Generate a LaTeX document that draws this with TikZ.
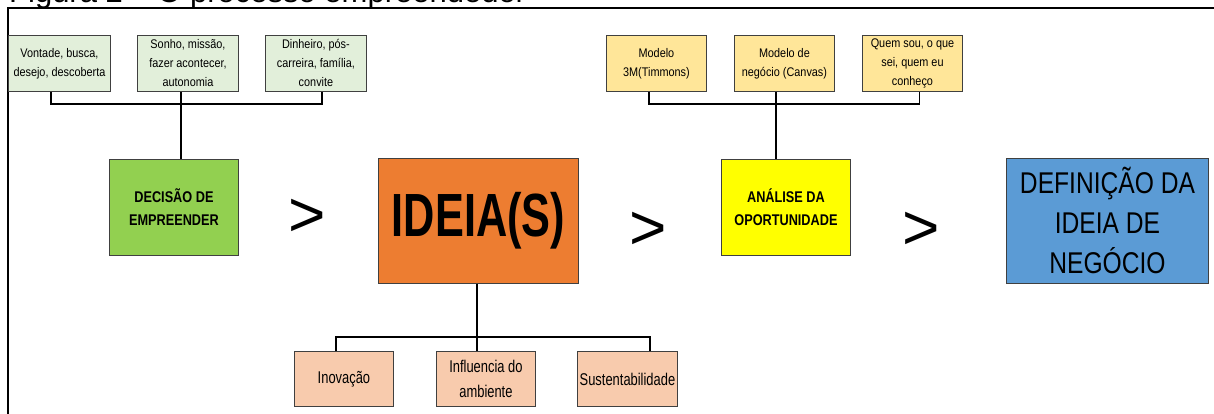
\documentclass[tikz,border=0pt]{standalone}
\usepackage{fontspec}
\setmainfont{Liberation Sans}
\newfontfamily\nA[FakeStretch=0.87]{Liberation Sans}
\newfontfamily\nB[FakeStretch=0.76]{Liberation Sans}
\newfontfamily\nC[FakeStretch=0.82]{Liberation Sans}
\newfontfamily\nD[FakeStretch=0.71]{Liberation Sans}
\usetikzlibrary{calc}
\definecolor{lgreen}{HTML}{E2EFDA}
\definecolor{lyellow}{HTML}{FFE699}
\definecolor{peach}{HTML}{F8CBAD}
\definecolor{cgreen}{HTML}{92D050}
\definecolor{corange}{HTML}{ED7D31}
\definecolor{cyellow}{HTML}{FFFF00}
\definecolor{cblue}{HTML}{5B9BD5}
\tikzset{
  box/.style={draw=black!75, line width=0.9pt, inner sep=0pt, align=center, anchor=north west},
  smallbox/.style={box, font={\nA\fontsize{12.5}{19}\selectfont}},
  peachbox/.style={box, fill=peach, minimum width=99pt, minimum height=55pt, font={\nB\fontsize{17}{25}\selectfont}},
  mainsmall/.style={box, minimum width=129pt, minimum height=96pt, font={\nC\bfseries\fontsize{15.5}{23}\selectfont}},
  conn/.style={line width=1.8pt, black},
  gtsign/.style={inner sep=0pt, font={\fontsize{64}{64}\selectfont}},
}
\begin{document}
\begin{tikzpicture}[x=1pt,y=-1pt]
\useasboundingbox (0,0) rectangle (1214,414);
\clip (0,0) rectangle (1214,414);
% caption (cut off at top)
\node[anchor=base west, inner sep=0pt, font={\fontsize{31}{31}\selectfont}] (cap) at (9,2.5) {Figura 2 – O processo empreendedor};
% frame
\draw[line width=1.5pt] (8,414) -- (8,8) -- (1214,8);
% top-left boxes
\node[smallbox, fill=lgreen, minimum width=102pt, minimum height=56pt] (g1) at (8,35) {Vontade, busca,\\desejo, descoberta};
\node[smallbox, fill=lgreen, minimum width=101pt, minimum height=56pt] (g2) at (137,35) {Sonho, missão,\\fazer acontecer,\\autonomia};
\node[smallbox, fill=lgreen, minimum width=101pt, minimum height=56pt] (g3) at (265,35) {Dinheiro, pós-\\carreira, família,\\convite};
% top-right boxes
\node[smallbox, fill=lyellow, minimum width=100pt, minimum height=56pt] (y1) at (606,35) {Modelo\\3M(Timmons)};
\node[smallbox, fill=lyellow, minimum width=100pt, minimum height=56pt] (y2) at (734,35) {Modelo de\\negócio (Canvas)};
\node[smallbox, fill=lyellow, minimum width=100pt, minimum height=56pt] (y3) at (862,35) {Quem sou, o que\\sei, quem eu\\conheço};
% main row
\node[mainsmall, fill=cgreen] (dec) at (109,159) {DECISÃO DE\\EMPREENDER};
\node[box, fill=corange, minimum width=200pt, minimum height=125pt, font={\nD\bfseries\fontsize{61}{61}\selectfont}] (ide) at (378,158) {IDEIA(S)};
\node[mainsmall, fill=cyellow] (ana) at (721,159) {ANÁLISE DA\\OPORTUNIDADE};
\node[box, fill=cblue, minimum width=202pt, minimum height=125pt, font={\nC\fontsize{30}{40}\selectfont}] (def) at (1006,158) {DEFINIÇÃO DA\\IDEIA DE\\NEGÓCIO};
\node[gtsign] (gt1) at (307,217.5) {>};
\node[gtsign] (gt2) at (648.5,231) {>};
\node[gtsign] (gt3) at (921,231) {>};
% bottom boxes
\node[peachbox] (p1) at (294,351) {Inovação};
\node[peachbox] (p2) at (436,351) {Influencia do\\ambiente};
\node[peachbox, minimum width=100pt] (p3) at (577,351) {Sustentabilidade};
% connector levels
\coordinate (tl) at (0,104);
\coordinate (bl) at (0,337);
% top-left bracket
\coordinate (a1) at ($(g1.south west)!0.42!(g1.south east)$);
\coordinate (a2) at ($(g2.south west)!0.43!(g2.south east)$);
\coordinate (a3) at ($(g3.south west)!0.56!(g3.south east)$);
\draw[conn] (a1) -- (a1 |- tl) -- (a3 |- tl) -- (a3);
\draw[conn] (a2) -- (a2 |- dec.north);
% top-right bracket
\coordinate (c1) at ($(y1.south west)!0.43!(y1.south east)$);
\coordinate (c2) at ($(y2.south west)!0.42!(y2.south east)$);
\coordinate (c3) at ($(y3.south west)!0.57!(y3.south east)$);
\draw[conn] (c1) -- (c1 |- tl) -- (c3 |- tl) -- (c3);
\draw[conn] (c2) -- (c2 |- ana.north);
% bottom bracket
\coordinate (d1) at ($(p1.north west)!0.42!(p1.north east)$);
\coordinate (d2) at ($(p2.north west)!0.41!(p2.north east)$);
\coordinate (d3) at ($(p3.north west)!0.72!(p3.north east)$);
\draw[conn] (d2 |- ide.south) -- (d2);
\draw[conn] (d1) -- (d1 |- bl) -- (d3 |- bl) -- (d3);
\end{tikzpicture}
\end{document}
